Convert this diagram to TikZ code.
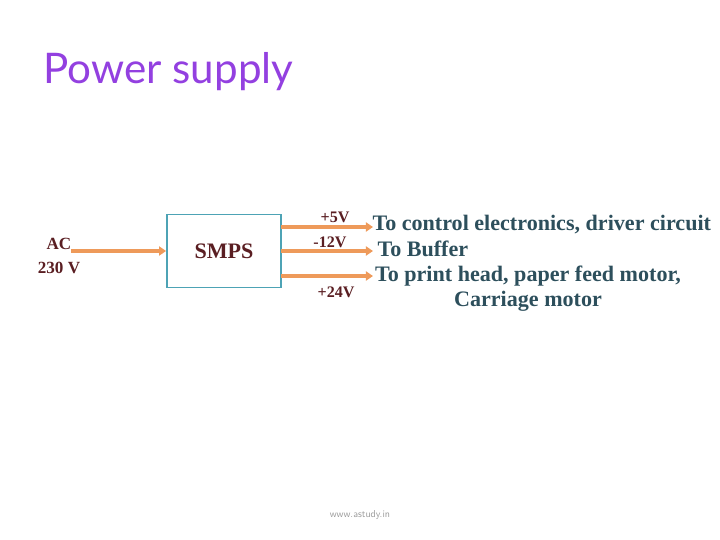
\documentclass[tikz,border=0pt]{standalone}
\usepackage{fontspec}
\setmainfont{Liberation Serif}
\newfontfamily\titlefont{Lato}
\usetikzlibrary{arrows.meta, positioning}
\definecolor{mytitle}{HTML}{9340E0}
\definecolor{mywire}{HTML}{EE9A5A}
\definecolor{mybox}{HTML}{4DA3B5}
\definecolor{mymaroon}{HTML}{5A1E22}
\definecolor{myteal}{HTML}{2D4F5C}
\tikzset{
  wire/.style={line width=3pt, color=mywire, -{Triangle[length=7pt,width=9pt]}},
  volt/.style={text=mymaroon, font=\fontsize{16}{18}\selectfont\bfseries},
  dest/.style={text=myteal, font=\fontsize{22}{25}\selectfont\bfseries, align=center}
}
\begin{document}
\begin{tikzpicture}[x=0.035cm, y=-0.035cm]
			\useasboundingbox (0,0) rectangle (720,540);
			\node[text=mytitle, font=\titlefont\fontsize{42}{46}\selectfont, anchor=west] (title) at (40,72) {Power supply};
			\node[draw=mybox, line width=1.8pt, minimum width=114*0.035cm, minimum height=73*0.035cm, text=mymaroon, font=\fontsize{22}{24}\selectfont\bfseries] (smps) at (224,251) {SMPS};
			\node[volt, align=center, font=\fontsize{17}{23}\selectfont\bfseries] (ac) at (59,256) {AC\\230 V};
			\coordinate (acend) at (71,251);
			\draw [wire] (acend) -- (smps.west);
			% outputs
			\coordinate (o1) at (281,227);
			\coordinate (o2) at (281,251);
			\coordinate (o3) at (281,276);
			\coordinate (e1) at (373,227);
			\coordinate (e2) at (373,251);
			\coordinate (e3) at (373,276);
			\draw [wire] (o1) -- (e1);
			\draw [wire] (o2) -- (e2);
			\draw [wire] (o3) -- (e3);
			\node[volt] (v5) at (335,217) {+5V};
			\node[volt] (v12) at (330,242) {-12V};
			\node[volt] (v24) at (336,292) {+24V};
			\node[dest, anchor=west] (d1) at (369,225) {To control electronics, driver circuit};
			\node[dest, anchor=west] (d2) at (374,249) {To Buffer};
			\node[dest] (d3) at (528,289) {To print head, paper feed motor,\\Carriage motor};
			\node[text=gray!80, font=\fontsize{10}{12}\selectfont\sffamily] (web) at (360,515) {www.astudy.in};
		\end{tikzpicture}
\end{document}
